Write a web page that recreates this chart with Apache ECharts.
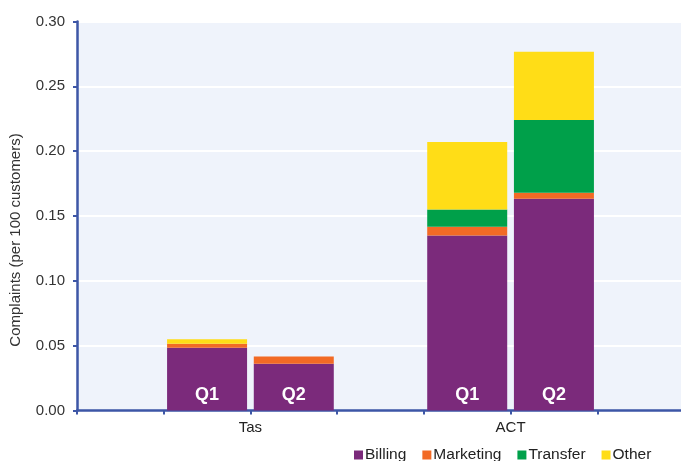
<!DOCTYPE html>
<html>
<head>
<meta charset="utf-8">
<script src="https://cdn.jsdelivr.net/npm/echarts@6/dist/echarts.min.js"></script>
<style>html,body{margin:0;padding:0;background:#fff;overflow:hidden;}#c{width:681px;height:461px;overflow:hidden;}</style>
</head>
<body>
<div id="c"></div>
<script>
var categories = ['', 'Q1', 'Q2', '', 'Q1', 'Q2', ''];
var groupLabels = { 2: 'Tas', 5: 'ACT' };
var billing   = [null, 0.0483, 0.0360, null, 0.1350, 0.1633, null];
var marketing = [null, 0.0031, 0.0057, null, 0.0067, 0.0046, null];
var transfer  = [null, 0,      0,      null, 0.0134, 0.0561, null];
var other     = [null, 0.0036, 0,      null, 0.0519, 0.0527, null];
var yTicks = [0, 0.05, 0.10, 0.15, 0.20, 0.25, 0.30];

var chart = echarts.init(document.getElementById('c'), null, { width: 687, height: 461 });
var font = 'Liberation Sans, Arial, sans-serif';
var axisBlue = '#3d56a6';
function bar(name, data, color, withLabel) {
  var s = {
    name: name, type: 'bar', stack: 'total', data: data,
    xAxisIndex: 0, yAxisIndex: 0, barWidth: 80,
    itemStyle: { color: color }, emphasis: { disabled: true }
  };
  if (withLabel) {
    s.label = { show: true, position: 'insideBottom', distance: 6, formatter: '{b}',
      color: '#fff', fontWeight: 'bold', fontSize: 18, fontFamily: font };
  }
  return s;
}
chart.setOption({
  animation: false,
  backgroundColor: '#fff',
  grid: { left: 75, top: 21.5, right: 0, height: 389, show: true,
    backgroundColor: '#eff3fb', borderWidth: 0 },
  legend: {
    left: 349, top: 442, itemWidth: 9, itemHeight: 9, itemGap: 16,
    icon: 'rect',
    textStyle: { fontSize: 15.5, color: '#222', fontFamily: font, padding: [0, 0, 0, -3] },
    data: ['Billing', 'Marketing', 'Transfer', 'Other']
  },
  xAxis: [
    { type: 'category', data: categories, position: 'bottom',
      axisLine: { show: false }, axisTick: { show: false }, axisLabel: { show: false } },
    { type: 'value', min: 0, max: 7, interval: 1, position: 'bottom',
      axisLine: { show: true, onZero: false, lineStyle: { color: axisBlue, width: 2.5 } },
      axisTick: { show: true, length: 4, lineStyle: { color: axisBlue, width: 2 } },
      splitLine: { show: false },
      axisLabel: { margin: 10, fontSize: 15, color: '#222', fontFamily: font,
        formatter: function (v) { return groupLabels[v] || ''; } } }
  ],
  yAxis: {
    type: 'value', min: 0, max: 0.3, interval: 0.05,
    name: 'Complaints (per 100 customers)', nameLocation: 'middle', nameGap: 54,
    nameTextStyle: { fontSize: 15, color: '#333', fontFamily: font, padding: [0, 48, 0, 0] },
    axisLine: { show: true, lineStyle: { color: axisBlue, width: 2.5 } },
    axisTick: { show: true, length: 4, lineStyle: { color: axisBlue, width: 2 } },
    splitLine: { show: true, lineStyle: { color: '#ffffff', width: 2 } },
    axisLabel: { margin: 12, fontSize: 15, color: '#333', fontFamily: font,
      formatter: function (v) { return v.toFixed(2); } }
  },
  series: [
    bar('Billing', billing, '#7b2a7b', true),
    bar('Marketing', marketing, '#f26a25', false),
    bar('Transfer', transfer, '#00a04a', false),
    bar('Other', other, '#ffdd17', false)
  ]
});
</script>
</body>
</html>
